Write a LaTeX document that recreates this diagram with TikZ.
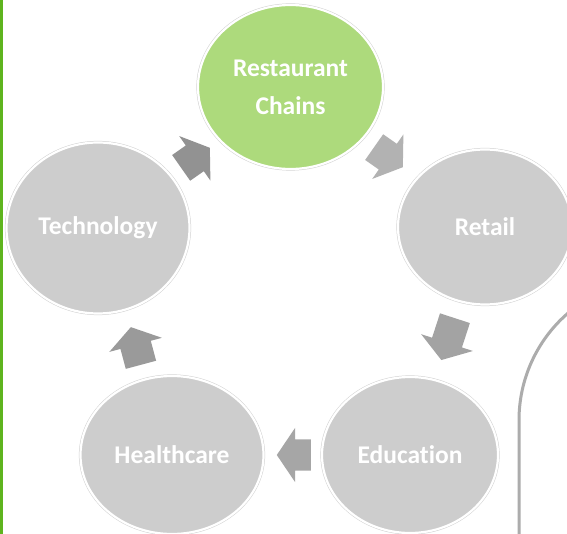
\documentclass[tikz,border=0pt]{standalone}
\usepackage{fontspec}
\setmainfont{Carlito}[Ligatures=NoCommon]
\usetikzlibrary{shapes.geometric, shapes.arrows}

\definecolor{chaingreen}{RGB}{173,218,124}
\definecolor{sectorgray}{RGB}{205,205,205}
\definecolor{bargreen}{RGB}{94,180,30}
\definecolor{framegray}{RGB}{172,172,172}
\definecolor{arrowA}{RGB}{146,146,146}
\definecolor{arrowB}{RGB}{178,178,178}
\definecolor{arrowC}{RGB}{163,163,163}
\definecolor{arrowD}{RGB}{166,166,166}
\definecolor{arrowE}{RGB}{154,154,154}

\begin{document}
\begin{tikzpicture}[x=1pt, y=-1pt]
    % Define styles
    \tikzstyle{sector} = [ellipse, fill=sectorgray, draw=white, line width=2.2pt, preaction={draw=black!18, line width=3.2pt}, inner sep=0pt, text=white, font=\fontsize{25.5}{38}\selectfont\bfseries, align=center]
    \tikzstyle{focus} = [sector, fill=chaingreen]
    \tikzstyle{cyclearrow} = [single arrow, draw=none, inner sep=0pt, text height=31pt, text depth=0pt, single arrow head extend=11.5pt, single arrow tip angle=112, minimum height=35pt, anchor=tail]

    \useasboundingbox (0,0) rectangle (567,534);
    \clip (0,0) rectangle (567,534);
    \fill[white] (0,0) rectangle (567,534);
    \fill[bargreen] (0,0) rectangle (3,534);

    % Sectors of the cycle
    \node[focus, minimum width=185pt, minimum height=164pt] (chains) at (290.5,87) {Restaurant\\Chains};
    \node[sector, minimum width=174pt, minimum height=155pt] (retail) at (485,227) {Retail};
    \node[sector, minimum width=176pt, minimum height=156pt] (education) at (410,455) {Education};
    \node[sector, minimum width=183pt, minimum height=158pt] (healthcare) at (172,455) {Healthcare};
    \node[sector, minimum width=183pt, minimum height=171pt] (technology) at (98,228) {Technology};

    % Arrows between the sectors
    \node[cyclearrow, fill=arrowA, rotate=35] (toChains) at (181,168) {};
    \node[cyclearrow, fill=arrowB, rotate=-35] (toRetail) at (374,147) {};
    \node[cyclearrow, fill=arrowC, rotate=-108, minimum height=44pt] (toEducation) at (455,318) {};
    \node[cyclearrow, fill=arrowD, rotate=180, minimum height=34pt] (toHealthcare) at (311,455) {};
    \node[cyclearrow, fill=arrowE, rotate=105, minimum height=39pt] (toTechnology) at (141,365) {};

    % Edge of the next panel
    \draw[framegray, line width=3pt] (519,540) -- (519,420) .. controls (519,379.5) and (536.6,340.7) .. (567,314) -- ++(10,-9);
\end{tikzpicture}
\end{document}
